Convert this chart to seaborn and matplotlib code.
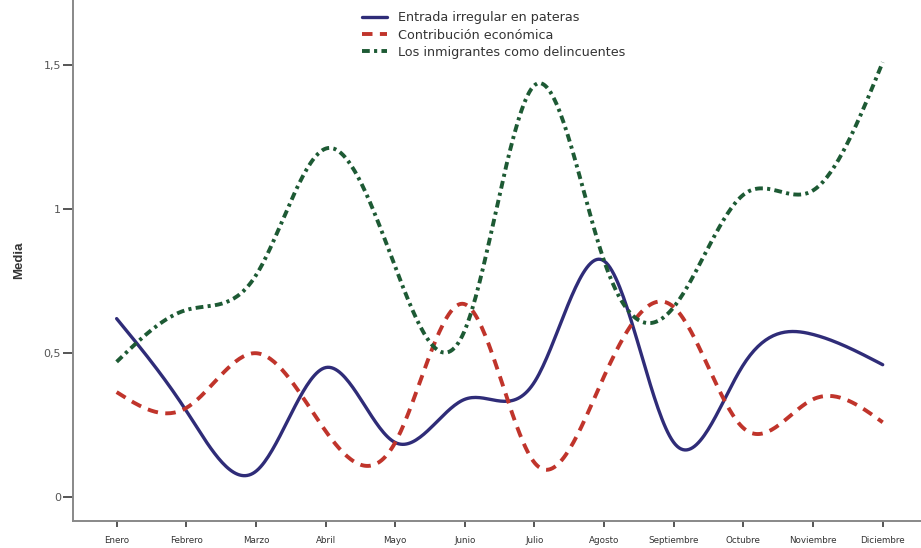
import numpy as np
import pandas as pd
import matplotlib
matplotlib.use("Agg")
import matplotlib.pyplot as plt
import seaborn as sns

# monthly means
meses = ["Enero", "Febrero", "Marzo", "Abril", "Mayo", "Junio", "Julio",
         "Agosto", "Septiembre", "Octubre", "Noviembre", "Diciembre"]
entrada = [0.62, 0.30, 0.09, 0.45, 0.19, 0.34, 0.40, 0.82, 0.19, 0.46, 0.565, 0.46]
contribucion = [0.365, 0.31, 0.50, 0.23, 0.19, 0.67, 0.12, 0.42, 0.66, 0.24, 0.34, 0.26]
delincuentes = [0.47, 0.65, 0.77, 1.21, 0.80, 0.58, 1.43, 0.82, 0.66, 1.05, 1.065, 1.51]

y_ticks = [0, 0.5, 1, 1.5]
y_ticklabels = ["0", "0,5", "1", "1,5"]


# natural cubic spline, used only to draw the smooth curve through the points
def spline_curve(y, n=400):
    y = np.asarray(y, dtype=float)
    x = np.arange(len(y), dtype=float)
    m = len(y)
    A = np.zeros((m, m))
    b = np.zeros(m)
    A[0, 0] = A[-1, -1] = 1
    for i in range(1, m - 1):
        A[i, i - 1] = 1
        A[i, i] = 4
        A[i, i + 1] = 1
        b[i] = 6 * (y[i + 1] - 2 * y[i] + y[i - 1])
    M = np.linalg.solve(A, b)
    xs = np.linspace(0, m - 1, n)
    k = np.clip(np.floor(xs).astype(int), 0, m - 2)
    t = xs - k
    ys = ((1 - t) * y[k] + t * y[k + 1]
          + ((1 - t) ** 3 - (1 - t)) * M[k] / 6
          + (t ** 3 - t) * M[k + 1] / 6)
    return xs, ys


sns.set_style("white")
plt.rcParams["font.family"] = ["DejaVu Sans"]

fig = plt.figure(figsize=(9.21, 5.48), dpi=100)
ax = fig.add_axes([0.079, 0.049, 0.921, 0.951])

series = [
    ("Entrada irregular en pateras", entrada, "#2f2c78", 2.4, None),
    ("Contribución económica", contribucion, "#c0342b", 2.8, (2.7, 1.9)),
    ("Los inmigrantes como delincuentes", delincuentes, "#1d5a34", 2.8, (2.0, 1.1, 0.8, 1.1)),
]

for name, vals, color, lw, dashes in series:
    xs, ys = spline_curve(vals)
    df = pd.DataFrame({"x": xs, "y": ys})
    sns.lineplot(data=df, x="x", y="y", ax=ax, color=color, linewidth=lw,
                 label=name, estimator=None, sort=False)
    if dashes is not None:
        ax.lines[-1].set_dashes(dashes)

ax.set_xlim(-0.63, 11.55)
ax.set_ylim(-0.083, 1.726)
ax.set_xticks(range(len(meses)))
ax.set_xticklabels(meses, fontsize=6.3, color="#333333")
ax.set_yticks(y_ticks)
ax.set_yticklabels(y_ticklabels, fontsize=8, color="#555555")
ax.set_xlabel("")
ax.set_ylabel("Media", fontsize=9.5, fontweight="bold", color="#333333",
              labelpad=13, family="Liberation Sans")

for side in ["top", "right"]:
    ax.spines[side].set_visible(False)
for side in ["left", "bottom"]:
    ax.spines[side].set_color("#888888")
    ax.spines[side].set_linewidth(1.4)
ax.tick_params(axis="both", which="major", bottom=True, left=True,
               direction="out", width=1.4, color="#555555")
ax.tick_params(axis="y", length=7, pad=1.5)
ax.tick_params(axis="x", length=4, pad=6.5)

leg = ax.legend(loc="upper left", bbox_to_anchor=(0.381, 1.0),
                bbox_transform=fig.transFigure, frameon=False,
                fontsize=9.2, handlelength=1.9, handletextpad=0.85,
                labelspacing=0.32)
for t in leg.get_texts():
    t.set_color("#333333")

fig.savefig("out.png", dpi=100, facecolor="white")
